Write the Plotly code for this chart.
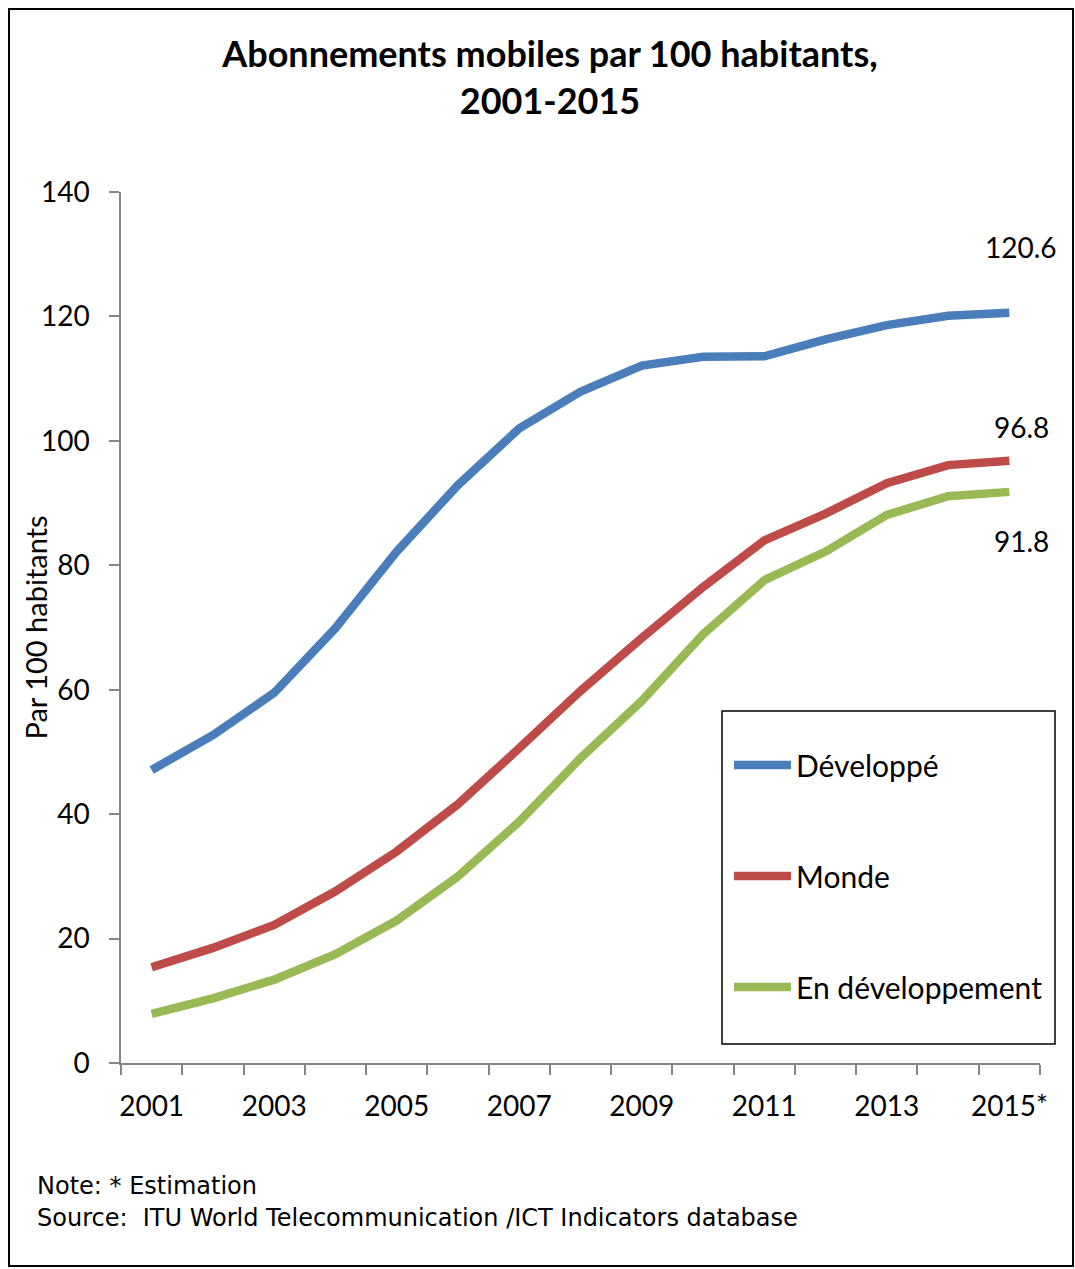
import plotly.graph_objects as go

# ---- data ----
years = ["2001", "2002", "2003", "2004", "2005", "2006", "2007", "2008",
         "2009", "2010", "2011", "2012", "2013", "2014", "2015*"]
developpe = [47.1, 52.7, 59.5, 69.9, 82.2, 92.9, 102.0, 107.9, 112.1, 113.5,
             113.6, 116.3, 118.6, 120.1, 120.6]
monde = [15.4, 18.5, 22.2, 27.6, 34.0, 41.6, 50.6, 59.8, 68.3, 76.5,
         84.0, 88.3, 93.2, 96.1, 96.8]
en_dev = [7.9, 10.4, 13.4, 17.5, 22.9, 30.0, 38.8, 49.0, 58.2, 68.9,
          77.6, 82.2, 88.1, 91.1, 91.8]
series_names = ["Développé", "Monde", "En développement"]
tick_text = [y if i % 2 == 0 else "" for i, y in enumerate(years)]
y_ticks = [0, 20, 40, 60, 80, 100, 120, 140]

# ---- layout geometry ----
W, H = 1075, 1269
L, R, T, B = 121, 35, 192, 206
PW, PH = W - L - R, H - T - B


def px(x):
    return (x - L) / PW


def py(y):
    return (H - B - y) / PH


colors = ["#4A7EBB", "#BE4B48", "#98B954"]
label_shift = [66, 34, -49]

fig = go.Figure()
for i, (name, vals) in enumerate(zip(series_names, [developpe, monde, en_dev])):
    fig.add_trace(go.Scatter(
        x=years, y=vals, name=name, mode="lines",
        line=dict(color=colors[i], width=8.5),
        legendgroup=name,
    ))
    fig.add_annotation(x=years[-1], y=vals[-1], text=f"{vals[-1]:.1f}",
                       showarrow=False, xshift=12, yshift=label_shift[i],
                       font=dict(family="Lato", size=28, color="black"))

FONT = "Lato"
fig.update_layout(
    width=W, height=H, autosize=False,
    margin=dict(l=L, r=R, t=T, b=B, pad=0),
    paper_bgcolor="white", plot_bgcolor="white",
    title=dict(text="<b>Abonnements mobiles par 100 habitants,<br>2001-2015</b>",
               x=550 / W, xanchor="center",
               y=1 - 67 / H, yanchor="top", yref="container",
               font=dict(family=FONT, size=36, color="black")),
    xaxis=dict(type="category", range=[-0.5, len(years) - 0.5],
               tickmode="array", tickvals=years, ticktext=tick_text,
               tickson="boundaries", ticks="outside", ticklen=10,
               tickcolor="#868686", tickwidth=1.5, tickangle=0,
               ticklabelstandoff=18,
               showline=True, linecolor="#868686", linewidth=1.5,
               showgrid=False, zeroline=False,
               tickfont=dict(family=FONT, size=28, color="black")),
    yaxis=dict(range=[0, 140], tickvals=y_ticks, ticks="outside", ticklen=10,
               tickcolor="#868686", tickwidth=1.5,
               ticklabelstandoff=14,
               showline=True, linecolor="#868686", linewidth=1.5,
               showgrid=False, zeroline=False,
               tickfont=dict(family=FONT, size=28, color="black")),
    legend=dict(x=px(729), y=py(739), xanchor="left", yanchor="top",
                traceorder="grouped", tracegroupgap=69,
                bgcolor="rgba(0,0,0,0)", borderwidth=0,
                itemwidth=57,
                font=dict(family=FONT, size=30, color="black")),
    showlegend=True,
)

# y-axis title
fig.add_annotation(x=px(35), y=0.5, xref="paper", yref="paper",
                   xanchor="center", yanchor="middle", showarrow=False,
                   textangle=-90, text="Par 100 habitants",
                   font=dict(family=FONT, size=29, color="black"))

# legend frame and outer frame
fig.add_shape(type="rect", xref="paper", yref="paper",
              x0=px(722), x1=px(1055), y0=py(1044), y1=py(711),
              line=dict(color="black", width=1.5), fillcolor="rgba(0,0,0,0)")
fig.add_shape(type="rect", xref="paper", yref="paper",
              x0=px(9), x1=px(1073), y0=py(1266), y1=py(9),
              line=dict(color="black", width=2), fillcolor="rgba(0,0,0,0)")

# footnotes
FOOT = dict(family="DejaVu Sans", size=24, color="black")
fig.add_annotation(x=px(35), y=py(1186), xref="paper", yref="paper",
                   xanchor="left", yanchor="middle", showarrow=False,
                   text="Note: * Estimation", font=FOOT)
fig.add_annotation(x=px(35), y=py(1218), xref="paper", yref="paper",
                   xanchor="left", yanchor="middle", showarrow=False,
                   text="Source:  ITU World Telecommunication /ICT Indicators database",
                   font=FOOT)

fig.write_html("out.html",
               config={"responsive": False, "displayModeBar": False},
               post_script="document.body.style.margin='0';document.body.style.overflow='hidden';")
